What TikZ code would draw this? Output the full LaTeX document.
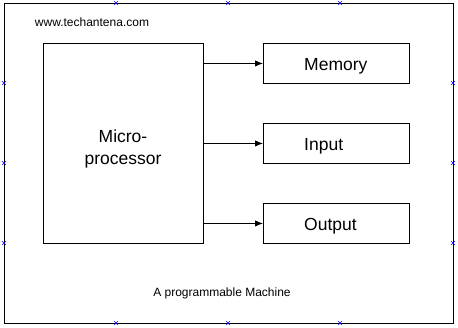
\documentclass[tikz,border=0pt]{standalone}
\usepackage{fontspec}
\setmainfont{Liberation Sans}
\usetikzlibrary{arrows.meta}
\begin{document}
\begin{tikzpicture}[x=1pt,y=-1pt,
  box/.style={draw=black,line width=0.9pt,inner sep=0pt,anchor=north west},
  lbl/.style={inner sep=0pt,anchor=base west,font=\fontsize{17.5}{22}\selectfont},
  conn/.style={-{Latex[length=8pt,width=6.5pt]},line width=0.9pt},
  xmark/.style={draw=blue,line width=0.6pt}]
\useasboundingbox (0,0) rectangle (458,327);
\fill[white] (0,0) rectangle (458,327);
\node[draw=black,line width=0.9pt,minimum width=449pt,minimum height=320pt,inner sep=0pt,anchor=north west] (frame) at (4,3) {};
\node[box,minimum width=160pt,minimum height=200pt] (cpu) at (43,43) {};
\node[box,minimum width=146pt,minimum height=40pt] (mem) at (263,43) {};
\node[box,minimum width=146pt,minimum height=40pt] (inp) at (263,123) {};
\node[box,minimum width=146pt,minimum height=40pt] (out) at (263,203) {};
\node[inner sep=0pt,anchor=base,font=\fontsize{17.5}{22}\selectfont] (cpul1) at (123,142) {Micro-};
\node[inner sep=0pt,anchor=base,font=\fontsize{17.5}{22}\selectfont] (cpul2) at (123,164) {processor};
\node[lbl] (meml) at (304,70.5) {Memory};
\node[lbl] (inpl) at (304,150.5) {Input};
\node[lbl] (outl) at (304,230.5) {Output};
\draw[conn] (cpu.east |- mem.west) -- (mem.west);
\draw[conn] (cpu.east |- inp.west) -- (inp.west);
\draw[conn] (cpu.east |- out.west) -- (out.west);
\node[font=\fontsize{12}{14}\selectfont] (site) at (92,22) {www.techantena.com};
\node[font=\fontsize{12}{14}\selectfont] (cap) at (222,293) {A programmable Machine};
\foreach \p in {(116,3),(228,3),(340,3),(116,323),(228,323),(340,323),(4,83),(4,163),(4,243),(453,83),(453,163),(453,243)}{
  \draw[xmark] \p ++(-2,-2) -- ++(4,4) \p ++(-2,2) -- ++(4,-4);
}
\end{tikzpicture}
\end{document}
